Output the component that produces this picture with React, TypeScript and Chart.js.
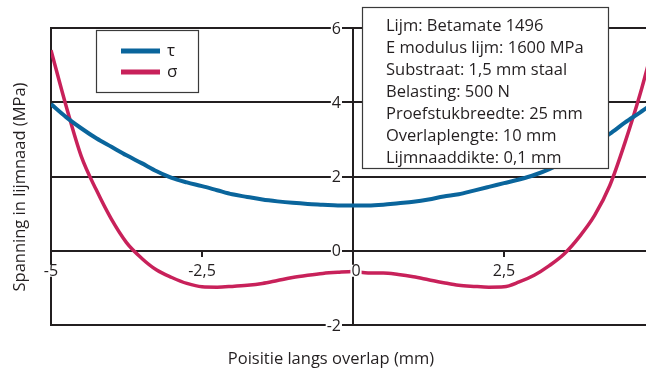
import { useEffect, useRef } from "react";
import { Chart, registerables } from "chart.js";

Chart.register(...registerables);

const positions = [
  -5, -4.75, -4.5, -4.25, -4, -3.75, -3.5, -3.25, -3, -2.75, -2.5, -2.25, -2, -1.75, -1.5, -1.25, -1, -0.75, -0.5, -0.25,
  0, 0.25, 0.5, 0.75, 1, 1.25, 1.5, 1.75, 2, 2.25, 2.5, 2.75, 3, 3.25, 3.5, 3.75, 4, 4.25, 4.5, 4.75, 5,
];
const tauValues = [
  3.95, 3.6, 3.3, 3.03, 2.8, 2.57, 2.36, 2.14, 1.96, 1.84, 1.74, 1.63, 1.52, 1.45, 1.38, 1.33, 1.29, 1.26, 1.24, 1.22,
  1.22, 1.22, 1.24, 1.28, 1.32, 1.38, 1.46, 1.52, 1.62, 1.72, 1.82, 1.92, 2.04, 2.2, 2.4, 2.65, 2.9, 3.15, 3.45, 3.72, 4.0,
];
const sigmaValues = [
  5.4, 3.9, 2.55, 1.64, 0.85, 0.22, -0.2, -0.52, -0.72, -0.88, -0.97, -0.98, -0.96, -0.93, -0.88, -0.8, -0.72, -0.66, -0.61, -0.58,
  -0.56, -0.6, -0.6, -0.64, -0.7, -0.78, -0.86, -0.93, -0.96, -0.98, -0.97, -0.84, -0.66, -0.4, -0.08, 0.38, 0.95, 1.75, 2.9, 4.2, 5.7,
];
const seriesLabels = ["τ", "σ"];
const seriesColors = ["#0a659c", "#c8215a"];
const xTickValues = [-5, -2.5, 0, 2.5];
const xTickLabels = ["-5", "-2,5", "0", "2,5"];
const yTickValues = [-2, 0, 2, 4, 6];
const yTickLabels = ["-2", "0", "2", "4", "6"];
const infoLines = [
  "Lijm: Betamate 1496",
  "E modulus lijm: 1600 MPa",
  "Substraat: 1,5 mm staal",
  "Belasting: 500 N",
  "Proefstukbreedte: 25 mm",
  "Overlaplengte: 10 mm",
  "Lijmnaaddikte: 0,1 mm",
];
const xTitle = "Poisitie langs overlap (mm)";
const yTitle = "Spanning in lijmnaad (MPa)";

const FONT = "'Open Sans', sans-serif";
const INK = "#231f20";

const decorPlugin = {
  id: "decor",
  beforeDatasetsDraw(chart: any) {
    const { ctx, chartArea, scales } = chart;
    const xs = scales.x;
    const ys = scales.y;
    ctx.save();
    ctx.strokeStyle = INK;
    ctx.lineWidth = 2;
    ctx.beginPath();
    for (const v of yTickValues) {
      const py = Math.round(ys.getPixelForValue(v));
      ctx.moveTo(chartArea.left, py);
      ctx.lineTo(chartArea.right, py);
    }
    for (const v of [-5, 0]) {
      const px = Math.round(xs.getPixelForValue(v));
      ctx.moveTo(px, chartArea.top - 1);
      ctx.lineTo(px, chartArea.bottom + 1);
    }
    const y0 = Math.round(ys.getPixelForValue(0));
    for (const v of [-2.5, 2.5]) {
      const px = Math.round(xs.getPixelForValue(v));
      ctx.moveTo(px, y0);
      ctx.lineTo(px, y0 + 6);
    }
    ctx.stroke();
    ctx.restore();
  },
  afterDatasetsDraw(chart: any) {
    const { ctx, scales } = chart;
    const xs = scales.x;
    const ys = scales.y;
    ctx.save();
    ctx.font = `16px ${FONT}`;
    ctx.textBaseline = "middle";

    const labelWithBg = (text: string, cx: number, cy: number, align: "center" | "right") => {
      const w = ctx.measureText(text).width;
      const left = align === "center" ? cx - w / 2 : cx - w;
      ctx.fillStyle = "#fff";
      ctx.fillRect(left - 1, cy - 6, w + 2, 12);
      ctx.fillStyle = INK;
      ctx.textAlign = "left";
      ctx.fillText(text, left, cy + 1);
    };

    const cx0 = xs.getPixelForValue(0);
    yTickValues.forEach((v, i) => {
      labelWithBg(yTickLabels[i], cx0 - 12, ys.getPixelForValue(v), "right");
    });
    const yLab = ys.getPixelForValue(0) + 20;
    xTickValues.forEach((v, i) => {
      labelWithBg(xTickLabels[i], xs.getPixelForValue(v) + (v === 0 ? 3 : 0), yLab, "center");
    });

    // info box
    ctx.fillStyle = "#fff";
    ctx.fillRect(362, 7, 247, 162);
    ctx.strokeStyle = "#3a3a3a";
    ctx.lineWidth = 1.2;
    ctx.strokeRect(362.5, 7.5, 246, 161);
    ctx.fillStyle = INK;
    ctx.font = `16.5px ${FONT}`;
    ctx.textAlign = "left";
    infoLines.forEach((t, i) => {
      ctx.fillText(t, 386, 26 + i * 22);
    });

    // legend box
    ctx.fillStyle = "#fff";
    ctx.fillRect(96, 30, 102, 62);
    ctx.strokeStyle = "#3a3a3a";
    ctx.strokeRect(96.5, 30.5, 102, 62);
    chart.data.datasets.forEach((ds: any, i: number) => {
      const ly = 51 + i * 21;
      ctx.strokeStyle = ds.borderColor;
      ctx.lineWidth = 5;
      ctx.beginPath();
      ctx.moveTo(121, ly);
      ctx.lineTo(160, ly);
      ctx.stroke();
      ctx.fillStyle = INK;
      ctx.font = `17px ${FONT}`;
      ctx.fillText(ds.label, 167, ly);
    });

    // titles
    ctx.font = `16.5px ${FONT}`;
    ctx.fillStyle = INK;
    ctx.textAlign = "center";
    ctx.fillText(xTitle, 331, 359);
    ctx.translate(20, 187);
    ctx.rotate(-Math.PI / 2);
    ctx.fillText(yTitle, 0, 0);
    ctx.restore();
  },
};

export default function App() {
  const ref = useRef<HTMLCanvasElement | null>(null);
  useEffect(() => {
    if (!ref.current) return;
    const chart = new Chart(ref.current, {
      type: "line",
      data: {
        datasets: [
          {
            label: seriesLabels[0],
            data: positions.map((x, i) => ({ x, y: tauValues[i] })),
            borderColor: seriesColors[0],
            borderWidth: 4,
            pointRadius: 0,
            tension: 0.4,
            cubicInterpolationMode: "monotone",
          },
          {
            label: seriesLabels[1],
            data: positions.map((x, i) => ({ x, y: sigmaValues[i] })),
            borderColor: seriesColors[1],
            borderWidth: 3.5,
            pointRadius: 0,
            tension: 0.4,
            cubicInterpolationMode: "monotone",
          },
        ],
      },
      options: {
        responsive: false,
        animation: false,
        devicePixelRatio: 1,
        layout: { padding: { left: 51, top: 28, right: 5, bottom: 46 } },
        plugins: { legend: { display: false }, tooltip: { enabled: false } },
        scales: {
          x: { type: "linear", min: -5, max: 5, display: false },
          y: { type: "linear", min: -2, max: 6, display: false },
        },
      },
      plugins: [decorPlugin],
    });
    return () => chart.destroy();
  }, []);
  return (
    <div style={{ position: "absolute", left: 0, top: 0, width: 646, height: 371, overflow: "hidden", background: "#fff" }}>
      <canvas ref={ref} width={660} height={371} style={{ width: 660, height: 371, display: "block" }} />
    </div>
  );
}
